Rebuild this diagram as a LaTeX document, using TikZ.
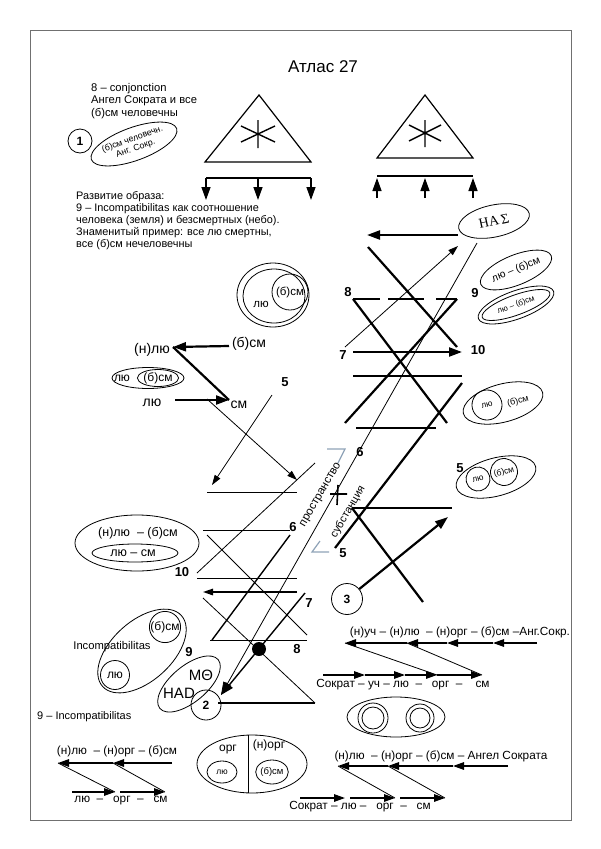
\documentclass[tikz,border=0pt]{standalone}
\usepackage{fontspec}
\setmainfont{Liberation Sans}
\newfontfamily\serifface{Liberation Serif}
\usetikzlibrary{arrows.meta,shapes.geometric}
\definecolor{bracketblue}{HTML}{8FA3B8}
\definecolor{framegray}{HTML}{707070}
\tikzset{
  thickln/.style={line width=2.2pt},
  medln/.style={line width=1.4pt},
  thinln/.style={line width=0.8pt},
  bigtip/.style={-{Triangle[length=13pt,width=9pt]}},
  midtip/.style={-{Triangle[length=11pt,width=7.5pt]}},
  smalltip/.style={-{Triangle[length=10pt,width=6.5pt]}},
  txt/.style={inner sep=0pt, font=\fontsize{11.2}{12.5}\selectfont},
  txtb/.style={inner sep=0pt, font=\fontsize{10.9}{12.5}\selectfont},
  lbl/.style={inner sep=0pt, font=\fontsize{14}{16}\selectfont},
  mid/.style={inner sep=0pt, font=\fontsize{12}{14}\selectfont},
  num/.style={inner sep=0pt, font=\fontsize{13}{15}\selectfont\bfseries},
  seqtxt/.style={inner sep=0pt, font=\fontsize{11.8}{13}\selectfont},
  circnum/.style={draw, circle, line width=0.8pt, inner sep=0pt, font=\fontsize{12}{14}\selectfont\bfseries},
  ell/.style={draw, ellipse, line width=0.8pt, inner sep=0pt},
}
\begin{document}
\begin{tikzpicture}[x=1pt,y=-1pt]
\useasboundingbox (0,0) rectangle (600,849);
\fill[white] (0,0) rectangle (600,849);
\draw[framegray, line width=0.8pt] (30,30) rectangle (571,820);

\node[inner sep=0pt, font=\fontsize{17}{20}\selectfont] (title) at (323,67) {Атлас 27};

% text block 1
\node[txt, anchor=base west] (a1) at (91,91) {8 – conjonction};
\node[txt, anchor=base west] (a2) at (91,103.5) {Ангел Сократа и все};
\node[txt, anchor=base west] (a3) at (91,116) {(б)см человечны};

\node[circnum, minimum size=24pt] (c1) at (80,141) {1};
\node[ell, rotate=20, minimum width=88pt, minimum height=33pt, align=center, font=\fontsize{8.8}{9.5}\selectfont] (e1) at (134,144) {(б)см человечн.\\Анг. Сокр.};

% triangle 1
\draw[line width=1.2pt] (259,95) -- (205,162) -- (311,162) -- cycle;
\draw[line width=1.4pt] (258,120) -- (258,148) (241,126) -- (275,142) (241,142) -- (275,126);
\draw[medln] (206,178) -- (311,178);
\foreach \x in {206,258,311} \draw[medln, bigtip] (\x,178) -- (\x,200);

% triangle 2
\draw[line width=1.2pt] (425,95) -- (377,158) -- (473,158) -- cycle;
\draw[line width=1.4pt] (425,120) -- (425,147) (409,125) -- (441,141) (409,141) -- (441,125);
\draw[medln] (377,176) -- (473,176);
\foreach \x in {377,425,473} \draw[medln, bigtip] (\x,198) -- (\x,178);

% text block 2
\node[txtb, anchor=base west] (b1) at (76,199) {Развитие образа:};
\node[txtb, anchor=base west] (b2) at (76,211) {9 – Incompatibilitas как соотношение};
\node[txtb, anchor=base west] (b3) at (76,223) {человека (земля) и безсмертных (небо).};
\node[txtb, anchor=base west] (b4) at (76,235) {Знаменитый пример: все лю смертны,};
\node[txtb, anchor=base west] (b5) at (76,247) {все (б)см нечеловечны};

% left nested ellipse
\draw[thinln] (273,295) ellipse [x radius=36, y radius=32];
\draw[thinln] (274,296) ellipse [x radius=31, y radius=27];
\node[draw, circle, thinln, minimum size=36pt, inner sep=0pt, font=\fontsize{11.5}{13}\selectfont] (g1) at (290,292) {(б)см};
\node[inner sep=0pt, font=\fontsize{11.5}{13}\selectfont] (g2) at (261,304) {лю};

% (н)лю group
\node[lbl] (nlu) at (152,350) {(н)лю};
\node[lbl] (bsm) at (249,344) {(б)см};
\node[lbl] (lu) at (152,403) {лю};
\node[lbl] (sm) at (239,405) {см};
\coordinate (nluR) at (173,347);
\coordinate (bsmL) at (229,346);
\coordinate (luR) at (175,400);
\coordinate (smL) at (229,400);
\draw[thickln, bigtip] (bsmL) -- (nluR);
\draw[thickln] (nluR) -- (smL);
\draw[thickln, bigtip] (luR) -- (smL);
\node[ell, minimum width=72pt, minimum height=21pt] (e2) at (148,378) {};
\node[ell, minimum width=37pt, minimum height=17pt, font=\fontsize{12}{13}\selectfont] (e2b) at (158,378) {(б)см};
\node[mid] (e2a) at (122,378) {лю};

% numbers
\node[num] (n5a) at (285,382) {5};
\node[num] (n8r) at (348,292) {8};
\node[num] (n9r) at (475,293) {9};
\node[num] (n7r) at (343,355) {7};
\node[num] (n10r) at (478,350) {10};
\node[num] (n6r) at (360,452) {6};
\node[num] (n5r) at (343,553) {5};
\node[num] (n6l) at (293,527) {6};
\node[num] (n10l) at (182,572) {10};
\node[num] (n7l) at (309,603) {7};
\node[num] (n8l) at (297,649) {8};
\node[num] (n9l) at (189,652) {9};
\node[num] (n5e) at (460,468) {5};

% right ellipses
\node[ell, rotate=12, minimum width=72pt, minimum height=32pt, font=\serifface\fontsize{14}{16}\selectfont] (nas) at (494,221) {HA\,Σ};
\node[ell, rotate=22, minimum width=76pt, minimum height=30pt, font=\fontsize{10.5}{12}\selectfont] (e3) at (516,270) {лю – (б)см};
\draw[thinln, rotate around={20:(516,305)}] (516,305) ellipse [x radius=40, y radius=14] (516,305) ellipse [x radius=36, y radius=10];
\node[inner sep=0pt, rotate=20, font=\fontsize{8}{9}\selectfont] (e4t) at (516,305) {лю – (б)см};

\node[ell, rotate=15, minimum width=82pt, minimum height=38pt] (r1) at (503,403) {};
\node[draw, circle, thinln, rotate=15, minimum size=30pt, inner sep=0pt, font=\fontsize{8.5}{9}\selectfont] (r1a) at (487,405) {лю};
\node[inner sep=0pt, rotate=15, font=\fontsize{9}{10}\selectfont] (r1b) at (518,401) {(б)см};

\node[ell, rotate=15, minimum width=82pt, minimum height=38pt] (r2) at (496,477) {};
\node[draw, circle, thinln, rotate=15, minimum size=24pt, inner sep=0pt, font=\fontsize{8.5}{9}\selectfont] (r2a) at (478,479) {лю};
\node[draw, circle, thinln, rotate=15, minimum size=27pt, inner sep=0pt, font=\fontsize{8.5}{9}\selectfont] (r2b) at (504,472) {(б)см};

% central X structure
\coordinate (nasW) at (458,235);
\coordinate (nasT) at (367,235);
\draw[thickln, bigtip] (nasW) -- (nasT);
\draw[thickln] (368,247) -- (457,347);
\draw[thickln, dash pattern=on 27pt off 8pt on 36pt off 12pt on 30pt] (353,299) -- (457,299);
\draw[thickln] (353,299) -- (447,423);
\draw[thickln] (457,299) -- (345,423);
\draw[thickln, bigtip] (353,352) -- (462,352);
\draw[thickln] (353,376) -- (462,376);
\draw[thickln] (462,383) -- (335,548);
\draw[thickln] (356,428) -- (436,428);
\draw[thickln] (352,508) -- (452,508);
\draw[thickln] (352,508) -- (423,602);
\node[circnum, minimum size=31pt] (c3) at (347,599) {3};
\coordinate (c3tip) at (448,517);
\draw[thickln, bigtip] (c3) -- (c3tip);
\coordinate (s7) at (345,347);
\coordinate (nasBL) at (458,246);
\draw[thinln, smalltip] (s7) -- (nasBL);

% long line to circle 2
\node[circnum, minimum size=30pt] (c2) at (206,705) {2};
\coordinate (c2tip) at (221,695);
\coordinate (nasB) at (477,243);
\draw[thinln, bigtip] (nasB) -- (c2tip);
\node[inner sep=0pt, rotate=60, font=\fontsize{11.5}{13}\selectfont] (pr) at (321,495) {пространство};
\node[inner sep=0pt, rotate=60, font=\fontsize{11}{13}\selectfont] (sub) at (348,512) {субстанция};
\draw[line width=1.6pt] (330,494) -- (347,494) (338,485) -- (337,505);
\draw[bracketblue, line width=1.2pt] (327,449) -- (345,449) -- (338,463);
\draw[bracketblue, line width=1.2pt] (320,541) -- (312,552) -- (329,552);

% lower-left structure
\draw[thinln, smalltip] (272,395) -- (212,485);
\draw[thinln, smalltip] (207,399) -- (297,480);
\draw[thinln] (207,492) -- (297,492);
\draw[thinln] (197,573) -- (315,463);
\draw[thinln] (203,530) -- (290,530);
\draw[thinln] (207,535) -- (307,635);
\draw[thinln] (197,578) -- (297,578);
\draw[medln, smalltip] (297,592) -- (203,592);
\draw[thinln] (203,598) -- (315,703);
\draw[thinln] (210,640) -- (307,640);
\draw[medln] (290,535) -- (212,640);
\coordinate (s7l) at (305,593);
\draw[medln, bigtip] (s7l) -- (c2tip);
\fill (259,649) circle [radius=7];
\draw[medln] (218,703) -- (315,703);

% left ellipse with two formulae
\draw[thinln] (137,543) ellipse [x radius=62, y radius=28];
\draw[thinln] (135,553) ellipse [x radius=43, y radius=9];
\node[inner sep=0pt, font=\fontsize{12.5}{14}\selectfont] (f1) at (138,533) {(н)лю\ \ – (б)см};
\node[inner sep=0pt, font=\fontsize{12.5}{14}\selectfont] (f2) at (133,553) {лю – см};

% incompatibilitas
\draw[thinln, rotate around={42:(142,651)}] (142,651) ellipse [x radius=53, y radius=30];
\node[draw, circle, thinln, minimum size=31pt, inner sep=0pt, font=\fontsize{12}{13}\selectfont] (ib) at (165,627) {(б)см};
\node[draw, circle, thinln, minimum size=29pt, inner sep=0pt, font=\fontsize{12}{13}\selectfont] (il) at (115,675) {лю};
\node[inner sep=0pt, font=\fontsize{11.2}{13}\selectfont] (inc) at (112,647) {Incompatibilitas};
\draw[thinln, rotate around={40:(189,684)}] (189,684) ellipse [x radius=38, y radius=18];
\node[inner sep=0pt, font=\fontsize{15}{17}\selectfont] (mth) at (201,675) {MΘ};
\node[inner sep=0pt, font=\fontsize{15}{17}\selectfont] (had) at (179,693) {HAD};

\node[inner sep=0pt, font=\fontsize{11}{13}\selectfont, anchor=west] (inc2) at (37,717) {9 – Incompatibilitas};

% diagram A
\node[seqtxt] (sA1) at (117,751) {(н)лю\ \ – (н)орг – (б)см};
\draw[medln, midtip] (172,763) -- (113,763);
\draw[medln, midtip] (113,763) -- (58,763);
\draw[thinln] (58,763) -- (115,792);
\draw[thinln] (113,763) -- (165,792);
\draw[medln, midtip] (72,792) -- (115,792);
\draw[medln, midtip] (120,792) -- (165,792);
\node[seqtxt] (sA2) at (121,801) {лю\ \ –\ \ \ орг\ \ –\ \ \ см};

% divided ellipse
\draw[thinln] (252,764) ellipse [x radius=55, y radius=29];
\draw[thinln] (248,735) -- (248,793);
\node[mid] (dorg) at (228,750) {орг};
\node[mid] (dnorg) at (269,745) {(н)орг};
\node[ell, minimum width=30pt, minimum height=22pt, font=\fontsize{8.5}{9}\selectfont] (dlu) at (222,772) {лю};
\node[ell, minimum width=31pt, minimum height=24pt, font=\fontsize{9.5}{10}\selectfont] (dbsm) at (272,772) {(б)см};

% diagram B
\node[seqtxt] (sB1) at (460,632) {(н)уч – (н)лю\ \ – (н)орг – (б)см –Анг.Сокр.};
\draw[medln, midtip] (537,643) -- (493,643);
\draw[medln, midtip] (493,643) -- (447,643);
\draw[medln, midtip] (447,643) -- (407,643);
\draw[medln, midtip] (407,643) -- (345,643);
\draw[thinln] (345,643) -- (437,675);
\draw[thinln] (407,643) -- (482,675);
\draw[medln, midtip] (323,675) -- (365,675);
\draw[medln, midtip] (365,675) -- (405,675);
\draw[medln, midtip] (405,675) -- (437,675);
\draw[medln, midtip] (437,675) -- (482,675);
\node[seqtxt] (sB2) at (403,685) {Сократ – уч – лю\ \ –\ \ \ орг\ \ –\ \ \ \ см};

% double circles ellipse
\draw[thinln] (396,717) ellipse [x radius=49, y radius=20];
\draw[thinln] (373,718) circle [radius=15] (373,718) circle [radius=11];
\draw[thinln] (420,718) circle [radius=14] (420,718) circle [radius=10];

% diagram C
\node[seqtxt] (sC1) at (441,756) {(н)лю\ \ – (н)орг – (б)см – Ангел Сократа};
\draw[medln, midtip] (508,766) -- (453,766);
\draw[medln, midtip] (453,766) -- (388,766);
\draw[medln, midtip] (388,766) -- (338,766);
\draw[thinln] (338,766) -- (395,798);
\draw[thinln] (388,766) -- (445,798);
\draw[medln, midtip] (300,798) -- (345,798);
\draw[medln, midtip] (350,798) -- (395,798);
\draw[medln, midtip] (400,798) -- (445,798);
\node[seqtxt] (sC2) at (360,807) {Сократ – лю –\ \ \ орг\ \ –\ \ \ см};
\end{tikzpicture}
\end{document}
